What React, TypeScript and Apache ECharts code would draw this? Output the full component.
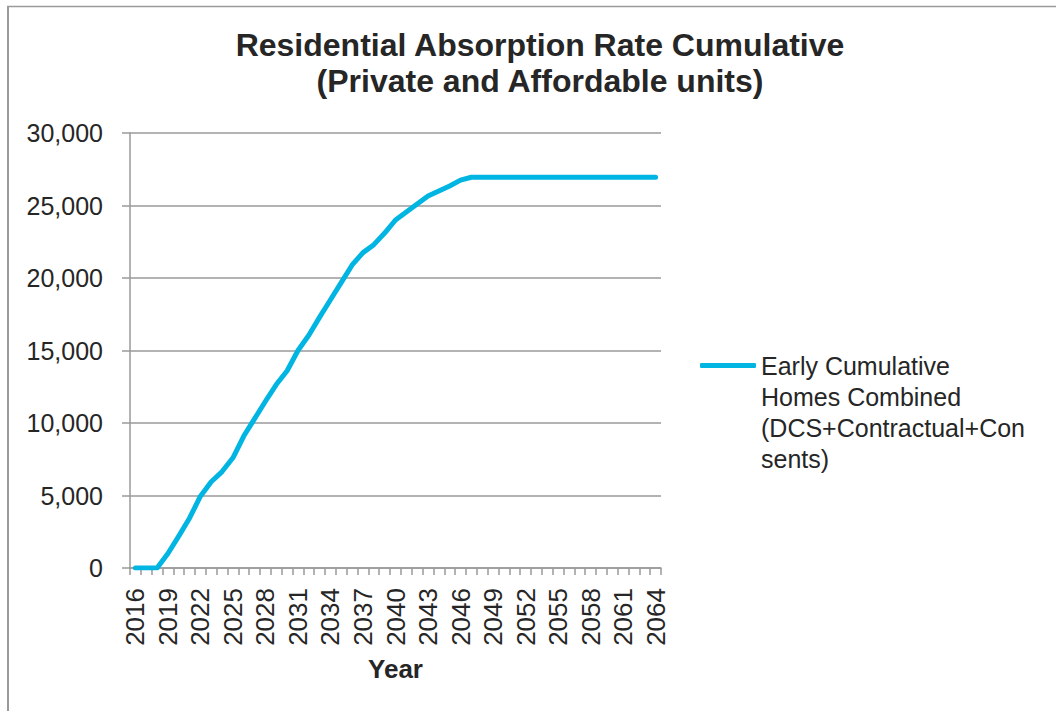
import React, { useEffect, useRef } from "react";
import * as echarts from "echarts";

// Years on the category axis
const years: string[] = [];
for (let y = 2016; y <= 2064; y++) years.push(String(y));

// Cumulative homes delivered per year
const cumulativeHomes: number[] = [
  0, 0, 0, 1000, 2200, 3450, 4950, 5950, 6650, 7600,
  9100, 10300, 11500, 12650, 13600, 15000, 16050, 17300, 18500, 19700,
  20900, 21750, 22300, 23100, 24000, 24550, 25100, 25650, 26000, 26350,
  26750, 26950, 26950, 26950, 26950, 26950, 26950, 26950, 26950, 26950,
  26950, 26950, 26950, 26950, 26950, 26950, 26950, 26950, 26950,
];

const seriesName = "Early Cumulative\nHomes Combined\n(DCS+Contractual+Con\nsents)";
const titleText = "Residential Absorption Rate Cumulative\n(Private and Affordable units)";

const FONT = "'Liberation Sans', Arial, sans-serif";
const TEXT = "#262626";
const AXIS = "#9a9a9a";

export default function App() {
  const ref = useRef<HTMLDivElement>(null);

  useEffect(() => {
    if (!ref.current) return;
    const chart = echarts.init(ref.current, undefined, { renderer: "svg" });
    chart.setOption({
      animation: false,
      backgroundColor: "#ffffff",
      textStyle: { fontFamily: FONT, color: TEXT },
      title: {
        text: titleText,
        left: 535,
        top: 22,
        textAlign: "center",
        textStyle: {
          fontFamily: FONT,
          fontSize: 32,
          fontWeight: "bold",
          color: TEXT,
          lineHeight: 36,
        },
      },
      legend: {
        left: 695,
        top: 252,
        orient: "vertical",
        icon: "roundRect",
        itemWidth: 56,
        itemHeight: 5,
        selectedMode: false,
        // blank leading lines keep the first text line level with the icon
        formatter: (name: string) => "\n\n\n" + name,
        textStyle: {
          fontFamily: FONT,
          fontSize: 25,
          color: TEXT,
          lineHeight: 31,
        },
        data: [seriesName],
      },
      grid: { left: 130, right: 395, top: 133, bottom: 143, containLabel: false },
      xAxis: {
        type: "category",
        data: years,
        boundaryGap: true,
        name: "Year",
        nameLocation: "middle",
        nameGap: 88,
        nameTextStyle: { fontFamily: FONT, fontSize: 26, fontWeight: "bold", color: TEXT },
        axisLine: { lineStyle: { color: AXIS, width: 1.5 } },
        axisTick: { show: true, interval: 0, length: 7, lineStyle: { color: AXIS, width: 1.5 } },
        axisLabel: {
          interval: 2,
          rotate: 90,
          margin: 20,
          fontFamily: FONT,
          fontSize: 26,
          color: TEXT,
        },
        splitLine: { show: false },
      },
      yAxis: {
        type: "value",
        min: 0,
        max: 30000,
        interval: 5000,
        axisLine: { show: true, lineStyle: { color: AXIS, width: 1.5 } },
        axisTick: { show: true, length: 8, lineStyle: { color: AXIS, width: 1.5 } },
        axisLabel: {
          margin: 27,
          fontFamily: FONT,
          fontSize: 25,
          color: TEXT,
          formatter: (v: number) => v.toLocaleString("en-US"),
        },
        splitLine: { show: true, lineStyle: { color: AXIS, width: 1.5 } },
      },
      series: [
        {
          name: seriesName,
          type: "line",
          data: cumulativeHomes,
          symbol: "none",
          smooth: false,
          lineStyle: { color: "#00B5E2", width: 5, cap: "round", join: "round" },
          itemStyle: { color: "#00B5E2" },
        },
      ],
      graphic: [
        {
          type: "line",
          shape: { x1: 8, y1: 6, x2: 8, y2: 711 },
          style: { stroke: AXIS, lineWidth: 2 },
          silent: true,
        },
        {
          type: "line",
          shape: { x1: 7, y1: 6.5, x2: 1056, y2: 6.5 },
          style: { stroke: AXIS, lineWidth: 1.5 },
          silent: true,
        },
      ],
    });
    return () => chart.dispose();
  }, []);

  return (
    <div
      ref={ref}
      style={{ position: "fixed", left: 0, top: 0, width: 1056, height: 711, background: "#fff" }}
    />
  );
}
